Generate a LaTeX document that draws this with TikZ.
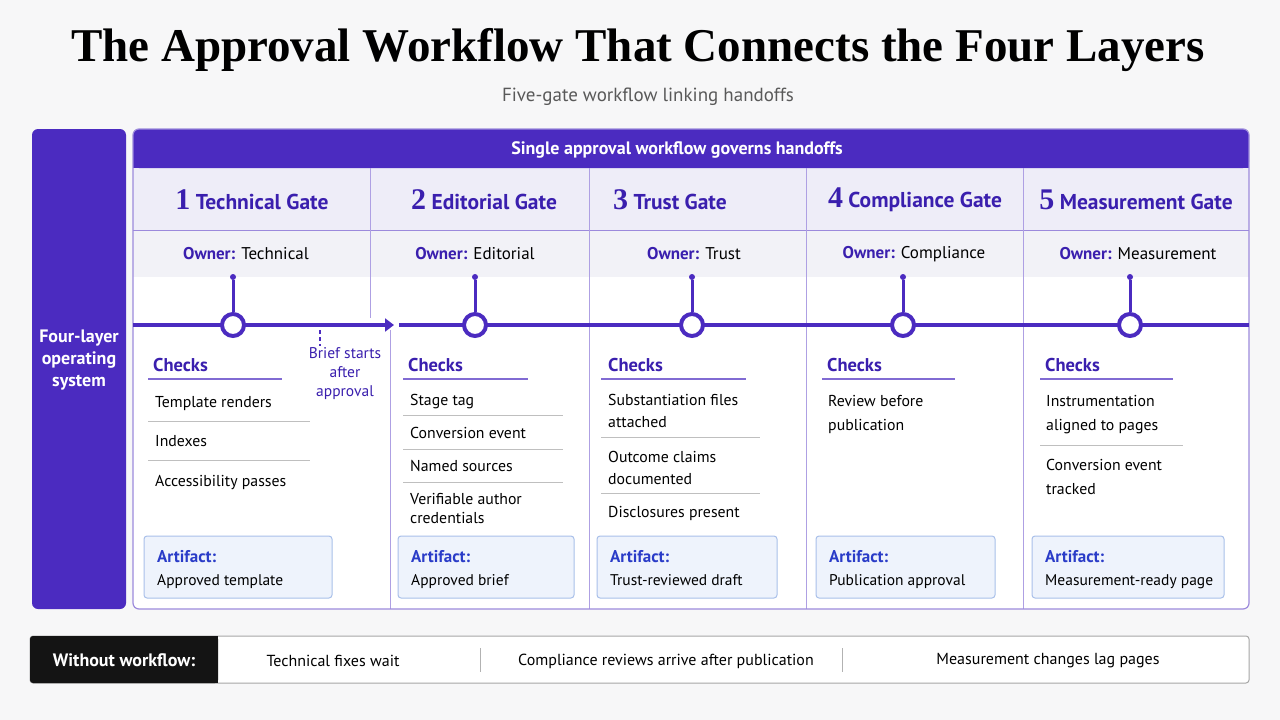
\documentclass[tikz,border=0pt]{standalone}
\usepackage{fontspec}
\setmainfont{PT Sans}
\newfontfamily\tserif{Liberation Serif}
\usetikzlibrary{arrows.meta}
\definecolor{pur}{HTML}{4B2BC0}
\definecolor{ptext}{HTML}{3A1FAE}
\definecolor{hdr}{HTML}{EEEDF8}
\definecolor{own}{HTML}{F2F2F7}
\definecolor{abl}{HTML}{2A3CC8}
\definecolor{afill}{HTML}{EEF3FC}
\definecolor{aline}{HTML}{A9C0EA}
\definecolor{bg}{HTML}{F7F7F8}
\begin{document}
\begin{tikzpicture}[x=1pt,y=-1pt,
  gt/.style={font=\fontsize{21.5}{24}\selectfont\bfseries, text=ptext},
  ow/.style={font=\fontsize{17}{20}\selectfont},
  chk/.style={anchor=base west,inner sep=0pt,font=\fontsize{18.5}{22}\selectfont\bfseries,text=ptext},
  it/.style={anchor=base west,inner sep=0pt,font=\fontsize{15.8}{22}\selectfont,align=left},
  sep/.style={draw=black!25,line width=0.8pt},
  ul/.style={draw=pur!70,line width=1.2pt},
  art/.style={draw=aline,fill=afill,rounded corners=3pt,line width=1pt},
  gate/.style={circle,draw=pur,fill=white,line width=4pt,minimum size=22pt,inner sep=0pt},
  dot/.style={circle,fill=pur,minimum size=6pt,inner sep=0pt},
  line/.style={draw=pur,line width=4pt}]
\useasboundingbox (0,0) rectangle (1280,720);
\fill[bg] (0,0) rectangle (1280,720);
\node[font=\tserif\fontsize{47}{50}\selectfont\bfseries] (title) at (638,50) {The Approval Workflow That Connects the Four Layers};
\node[font=\fontsize{19}{22}\selectfont,text=black!65] (sub) at (648,97) {Five-gate workflow linking handoffs};
% left block
\fill[pur,rounded corners=6pt] (32,129) rectangle (126,609);
\node[text=white,font=\fontsize{18}{22}\selectfont\bfseries,align=center] (fl) at (79,360) {Four-layer\\operating\\system};
% frame
\fill[white,rounded corners=6pt] (133,129) rectangle (1249,609);
\fill[hdr] (133,168) rectangle (1249,230);
\fill[own] (133,230) rectangle (1249,277);
\fill[pur,rounded corners=6pt] (133,129) rectangle (1249,168);
\fill[pur] (133,150) rectangle (1249,168);
\node[text=white,font=\fontsize{18}{22}\selectfont\bfseries] (band) at (677,150) {Single approval workflow governs handoffs};
\draw[pur!55,line width=1pt] (133,230) -- (1249,230);
\foreach \x in {589,806,1023} \draw[pur!45,line width=1pt] (\x,168) -- (\x,609);
\draw[pur!45,line width=1pt] (370,168) -- (370,318);
\draw[pur!45,line width=1pt] (390,330) -- (390,609);
\draw[pur!55,line width=1.2pt,rounded corners=6pt] (133,129) rectangle (1249,609);
% gate titles
\node[gt] (g1) at (252,200) {{\tserif\fontsize{30}{30}\selectfont 1} Technical Gate};
\node[gt] (g2) at (484,200) {{\tserif\fontsize{30}{30}\selectfont 2} Editorial Gate};
\node[gt] (g3) at (670,200) {{\tserif\fontsize{30}{30}\selectfont 3} Trust Gate};
\node[gt] (g4) at (915,200) {{\tserif\fontsize{30}{30}\selectfont 4} Compliance Gate};
\node[gt] (g5) at (1136,200) {{\tserif\fontsize{30}{30}\selectfont 5} Measurement Gate};
\node[ow] (o1) at (246,254) {\textcolor{ptext}{\bfseries Owner:} Technical};
\node[ow] (o2) at (475,254) {\textcolor{ptext}{\bfseries Owner:} Editorial};
\node[ow] (o3) at (694,254) {\textcolor{ptext}{\bfseries Owner:} Trust};
\node[ow] (o4) at (914,254) {\textcolor{ptext}{\bfseries Owner:} Compliance};
\node[ow] (o5) at (1138,254) {\textcolor{ptext}{\bfseries Owner:} Measurement};
% timeline
\coordinate (ls) at (133,325);
\coordinate (la) at (394,325);
\coordinate (lb) at (399,325);
\coordinate (le) at (1249,325);
\draw[line,-{Triangle[length=9pt,width=13pt]}] (ls) -- (la);
\draw[line] (lb) -- (le);
\foreach \i/\x in {1/233,2/475,3/692,4/903,5/1130}{
  \node[dot] (d\i) at (\x,277) {};
  \node[gate] (c\i) at (\x,325) {};
  \draw[pur,line width=3pt] (d\i) -- (c\i);
}
\coordinate (bs) at (320,330);
\coordinate (be) at (320,346);
\draw[pur,line width=1.2pt,dash pattern=on 4pt off 3pt] (bs) -- (be);
\node[text=ptext,font=\fontsize{15.5}{19}\selectfont,align=center] (brief) at (345,374) {Brief starts\\after\\approval};
% checks
\node[chk] (k1) at (153,371) {Checks}; \draw[ul] (148,379) -- (282,379);
\node[it] at (155,407) {Template renders}; \draw[sep] (148,421) -- (310,421);
\node[it] at (155,446) {Indexes}; \draw[sep] (148,460) -- (310,460);
\node[it] at (155,486) {Accessibility passes};
\node[chk] (k2) at (408,371) {Checks}; \draw[ul] (403,379) -- (528,379);
\node[it] at (410,405) {Stage tag}; \draw[sep] (403,415) -- (563,415);
\node[it] at (410,438) {Conversion event}; \draw[sep] (403,449) -- (563,449);
\node[it] at (410,471) {Named sources}; \draw[sep] (403,482) -- (563,482);
\node[it] at (410,504) {Verifiable author};
\node[it] at (410,523) {credentials};
\node[chk] (k3) at (608,371) {Checks}; \draw[ul] (601,379) -- (746,379);
\node[it] at (608,405) {Substantiation files}; \node[it] at (608,427) {attached}; \draw[sep] (601,437) -- (760,437);
\node[it] at (608,462) {Outcome claims}; \node[it] at (608,484) {documented}; \draw[sep] (601,493) -- (760,493);
\node[it] at (608,517) {Disclosures present};
\node[chk] (k4) at (827,371) {Checks}; \draw[ul] (822,379) -- (955,379);
\node[it] at (828,406) {Review before}; \node[it] at (828,430) {publication};
\node[chk] (k5) at (1045,371) {Checks}; \draw[ul] (1040,379) -- (1173,379);
\node[it] at (1046,406) {Instrumentation}; \node[it] at (1046,430) {aligned to pages}; \draw[sep] (1040,445) -- (1183,445);
\node[it] at (1046,470) {Conversion event}; \node[it] at (1046,494) {tracked};
% artifacts
\foreach \a/\b/\t in {144/332/Approved template,398/574/Approved brief,597/777/Trust-reviewed draft,816/995/Publication approval,1032/1224/Measurement-ready page}{
  \draw[art] (\a,536) rectangle (\b,598);
  \node[anchor=base west,inner sep=0pt,font=\fontsize{17}{20}\selectfont\bfseries,text=abl] at (\a+13,562) {Artifact:};
  \node[anchor=base west,inner sep=0pt,font=\fontsize{15.5}{20}\selectfont] at (\a+13,585) {\t};
}
% bottom bar
\fill[white] (30,636) rectangle (1249,683);
\draw[black!35,line width=1pt,rounded corners=3pt] (30,636) rectangle (1249,683);
\fill[black!92,rounded corners=3pt] (30,636) rectangle (218,683);
\fill[black!92] (200,636) rectangle (218,683);
\node[text=white,font=\fontsize{18}{22}\selectfont\bfseries] (wo) at (124,660) {Without workflow:};
\draw[black!30,line width=1pt] (480,648) -- (480,672);
\draw[black!30,line width=1pt] (842,648) -- (842,672);
\node[font=\fontsize{16}{20}\selectfont] (b1) at (333,661) {Technical fixes wait};
\node[font=\fontsize{16}{20}\selectfont] (b2) at (666,661) {Compliance reviews arrive after publication};
\node[font=\fontsize{16}{20}\selectfont] (b3) at (1048,661) {Measurement changes lag pages};
\end{tikzpicture}
\end{document}
